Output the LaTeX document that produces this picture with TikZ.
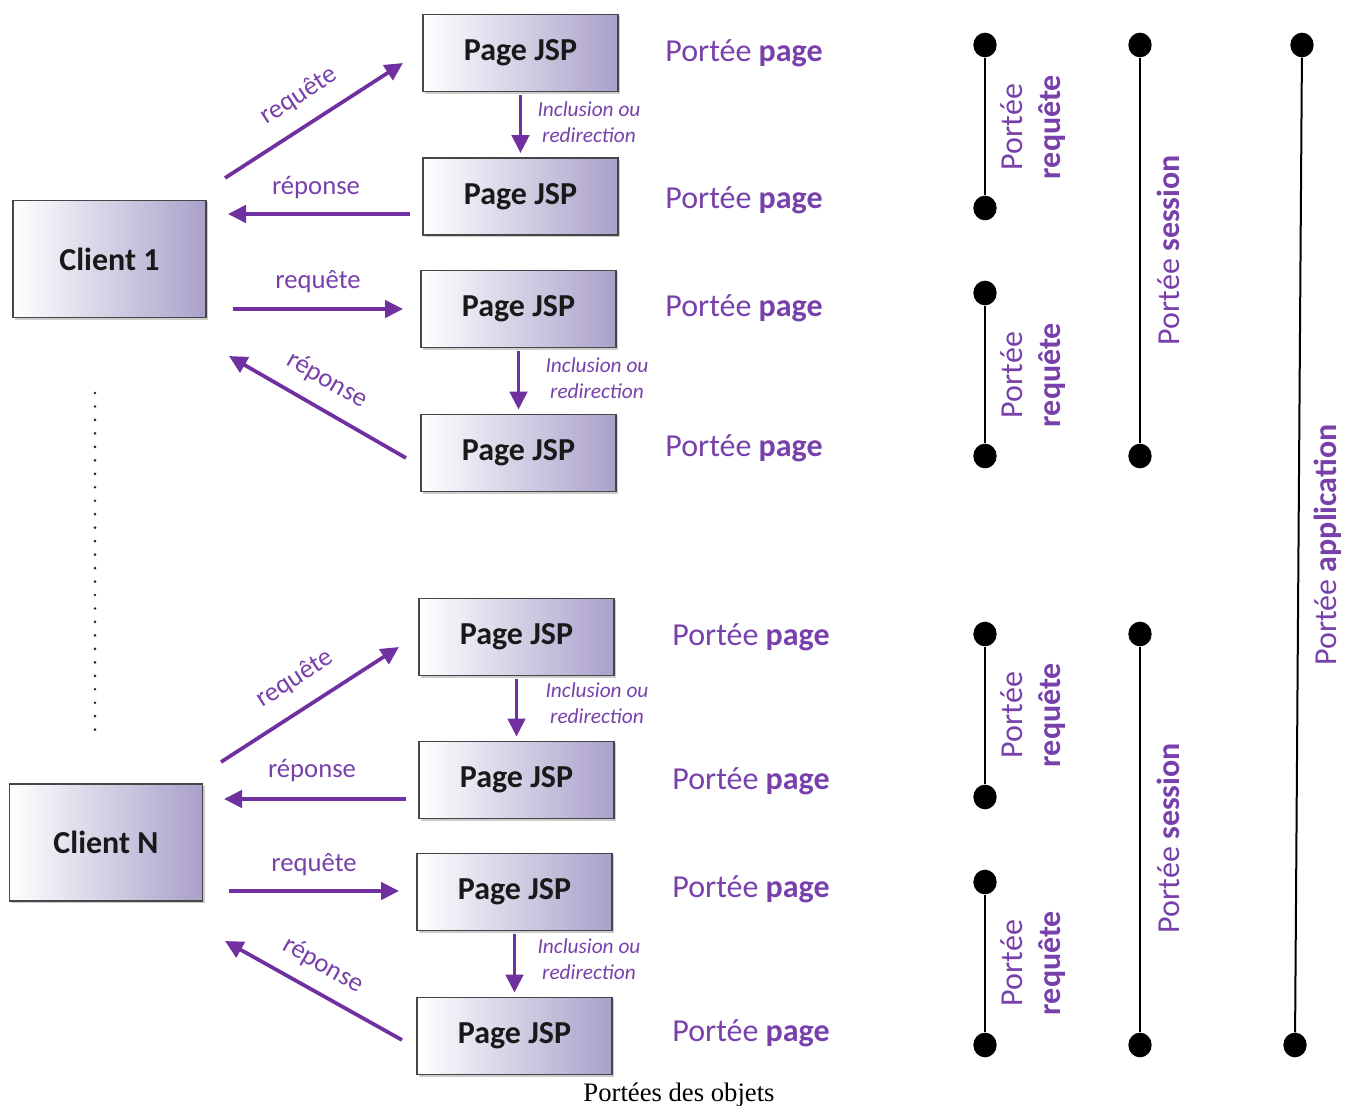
\documentclass[tikz,border=0pt]{standalone}
\usepackage{fontspec}
\setmainfont{Carlito}
\newfontfamily\capfont{Liberation Serif}
\usetikzlibrary{arrows.meta,shadows,shapes.geometric}
\definecolor{arrpurple}{RGB}{112,48,160}
\definecolor{txtpurple}{RGB}{120,64,170}
\definecolor{boxpurple}{RGB}{170,160,202}
\definecolor{boxline}{RGB}{70,70,70}
\tikzset{
  jsp/.style={draw=boxline, line width=1.1pt, left color=white, right color=boxpurple,
    minimum width=146pt, minimum height=58pt, inner sep=0pt,
    font=\fontsize{24}{28}\selectfont\bfseries, text=black!90,
    drop shadow={shadow xshift=1.6pt, shadow yshift=-1.6pt, opacity=0.2, fill=black}},
  client/.style={jsp, minimum width=145pt, minimum height=88pt},
  arr/.style={draw=arrpurple, line width=2.8pt, -{Triangle[length=13.5pt,width=13pt]}},
  lbl/.style={text=txtpurple, font=\fontsize{20}{24}\selectfont},
  incl/.style={text=txtpurple, font=\fontsize{16}{19.5}\selectfont\itshape, align=center},
  pscope/.style={text=txtpurple, font=\fontsize{24}{28}\selectfont},
  rscope/.style={pscope, rotate=90, align=center},
  dot/.style={ellipse, fill=black, inner sep=0pt, minimum width=17.5pt, minimum height=18.5pt},
  tl/.style={line width=1.5pt, black},
}
\begin{document}
\begin{tikzpicture}[x=0.75pt,y=0.75pt]
\useasboundingbox (0,0) rectangle (1353,-1106);
% boxes
\node[jsp] (p1) at (520.5,-53) {Page JSP};
\node[jsp] (p2) at (520.5,-196.5) {Page JSP};
\node[jsp] (p3) at (518.5,-309) {Page JSP};
\node[jsp] (p4) at (518.5,-453) {Page JSP};
\node[jsp] (p5) at (516.5,-637) {Page JSP};
\node[jsp] (p6) at (516.5,-780) {Page JSP};
\node[jsp] (p7) at (514.5,-892) {Page JSP};
\node[jsp] (p8) at (514.5,-1036) {Page JSP};
\node[client] (c1) at (109.5,-259) {Client 1};
\node[client] (cN) at (106,-842.5) {Client N};
% portee page labels
\node[pscope] (pp1) at (744,-53) {Portée \textbf{page}};
\node[pscope] (pp2) at (744,-200) {Portée \textbf{page}};
\node[pscope] (pp3) at (744,-308) {Portée \textbf{page}};
\node[pscope] (pp4) at (744,-448) {Portée \textbf{page}};
\node[pscope] (pp5) at (751,-637) {Portée \textbf{page}};
\node[pscope] (pp6) at (751,-781) {Portée \textbf{page}};
\node[pscope] (pp7) at (751,-889) {Portée \textbf{page}};
\node[pscope] (pp8) at (751,-1033) {Portée \textbf{page}};
% arrow end coordinates
\coordinate (a1s) at (225,-178); \coordinate (a1e) at (403,-63);
\coordinate (a2s) at (410,-214); \coordinate (a2e) at (228,-214);
\coordinate (a3s) at (233,-309); \coordinate (a3e) at (403,-309);
\coordinate (a4s) at (406,-458); \coordinate (a4e) at (229,-356);
\coordinate (b1s) at (221,-762); \coordinate (b1e) at (399,-647);
\coordinate (b2s) at (406,-799); \coordinate (b2e) at (224,-799);
\coordinate (b3s) at (229,-891); \coordinate (b3e) at (399,-891);
\coordinate (b4s) at (402,-1040); \coordinate (b4e) at (225,-941);
\draw[arr] (a1s) -- (a1e);
\draw[arr] (a2s) -- (a2e);
\draw[arr] (a3s) -- (a3e);
\draw[arr] (a4s) -- (a4e);
\draw[arr] (b1s) -- (b1e);
\draw[arr] (b2s) -- (b2e);
\draw[arr] (b3s) -- (b3e);
\draw[arr] (b4s) -- (b4e);
\node[lbl, rotate=33] (la1) at (299,-96) {requête};
\node[lbl] (la2) at (316,-188) {réponse};
\node[lbl] (la3) at (318,-282) {requête};
\node[lbl, rotate=-30] (la4) at (327,-380) {réponse};
\node[lbl, rotate=33] (lb1) at (295,-679) {requête};
\node[lbl] (lb2) at (312,-771) {réponse};
\node[lbl] (lb3) at (314,-865) {requête};
\node[lbl, rotate=-30] (lb4) at (323,-965) {réponse};
% inclusion arrows
\draw[arr, shorten <=2pt, shorten >=3pt] (p1.south) -- (p2.north);
\draw[arr, shorten <=2pt, shorten >=3pt] (p3.south) -- (p4.north);
\draw[arr, shorten <=2pt, shorten >=3pt] (p5.south) -- (p6.north);
\draw[arr, shorten <=2pt, shorten >=3pt] (p7.south) -- (p8.north);
\node[incl] (i1) at (589,-122) {Inclusion ou\\redirection};
\node[incl] (i2) at (597,-378) {Inclusion ou\\redirection};
\node[incl] (i3) at (597,-703) {Inclusion ou\\redirection};
\node[incl] (i4) at (589,-959) {Inclusion ou\\redirection};
% dotted separator
\coordinate (d1) at (95,-393); \coordinate (d2) at (95,-740);
\draw[line width=2.2pt, line cap=round, dash pattern=on 0pt off 10.1pt, black!85] (d1) -- (d2);
% timelines
\node[dot] (r1a) at (985,-45) {};  \node[dot] (r1b) at (985,-208) {};
\node[dot] (r2a) at (985,-293) {}; \node[dot] (r2b) at (985,-456) {};
\node[dot] (r3a) at (985,-634) {}; \node[dot] (r3b) at (985,-797) {};
\node[dot] (r4a) at (985,-882) {}; \node[dot] (r4b) at (985,-1045) {};
\node[dot] (s1a) at (1140,-45) {}; \node[dot] (s1b) at (1140,-456) {};
\node[dot] (s2a) at (1140,-634) {}; \node[dot] (s2b) at (1140,-1045) {};
\node[dot] (ap1) at (1302,-45) {}; \node[dot] (ap2) at (1295,-1045) {};
\draw[tl] (r1a) -- (r1b);
\draw[tl] (r2a) -- (r2b);
\draw[tl] (r3a) -- (r3b);
\draw[tl] (r4a) -- (r4b);
\draw[tl] (s1a) -- (s1b);
\draw[tl] (s2a) -- (s2b);
\draw[tl] (ap1) -- (ap2);
\node[rscope] (rl1) at (1033,-127) {Portée\\\textbf{requête}};
\node[rscope] (rl2) at (1033,-375) {Portée\\\textbf{requête}};
\node[rscope] (rl3) at (1033,-715) {Portée\\\textbf{requête}};
\node[rscope] (rl4) at (1033,-963) {Portée\\\textbf{requête}};
\node[rscope] (sl1) at (1168,-250) {Portée \textbf{session}};
\node[rscope] (sl2) at (1168,-838) {Portée \textbf{session}};
\node[rscope] (al) at (1328,-545) {Portée \textbf{application}};
% caption
\node[font=\capfont\fontsize{20}{24}\selectfont] (cap) at (679,-1095) {Portées des objets};
\end{tikzpicture}
\end{document}
